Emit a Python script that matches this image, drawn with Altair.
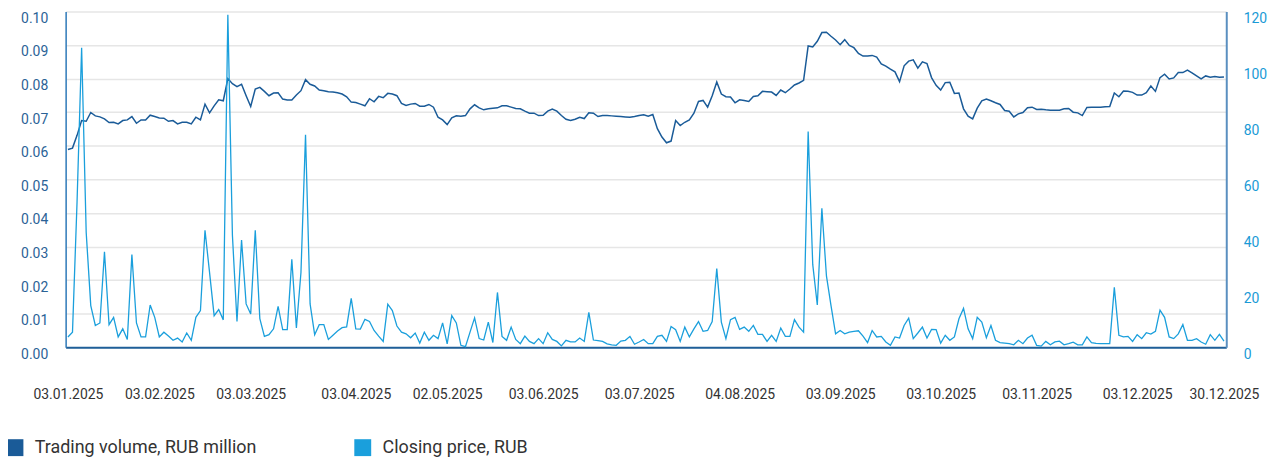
import altair as alt
import pandas as pd

# exchange trading days, 2025 (weekdays without the non-trading holidays)
holidays = ["2025-01-07", "2025-05-01", "2025-05-09", "2025-06-12"]
days = pd.bdate_range("2025-01-03", "2025-12-30")
days = days[~days.isin(pd.to_datetime(holidays))]
day_labels = [d.strftime("%d.%m.%Y") for d in days]

tick_labels = ["03.01.2025", "03.02.2025", "03.03.2025", "03.04.2025", "02.05.2025",
               "03.06.2025", "03.07.2025", "04.08.2025", "03.09.2025", "03.10.2025",
               "03.11.2025", "03.12.2025", "30.12.2025"]
volume_ticks = [0.0, 0.01, 0.02, 0.03, 0.04, 0.05, 0.06, 0.07, 0.08, 0.09, 0.10]
price_ticks = [0, 20, 40, 60, 80, 100, 120]

series_names = ["Trading volume, RUB million", "Closing price, RUB"]

volume = [
    0.0589, 0.0593, 0.0631, 0.0675, 0.0673, 0.0699, 0.0689, 0.0686, 0.0680, 0.0669,
    0.0670, 0.0665, 0.0675, 0.0677, 0.0687, 0.0667, 0.0677, 0.0677, 0.0691, 0.0687,
    0.0683, 0.0682, 0.0673, 0.0675, 0.0665, 0.0670, 0.0670, 0.0665, 0.0685, 0.0677,
    0.0724, 0.0698, 0.0719, 0.0737, 0.0734, 0.0800, 0.0785, 0.0776, 0.0783, 0.0749,
    0.0717, 0.0769, 0.0774, 0.0762, 0.0749, 0.0757, 0.0758, 0.0739, 0.0736, 0.0736,
    0.0751, 0.0764, 0.0797, 0.0783, 0.0778, 0.0766, 0.0764, 0.0761, 0.0760, 0.0758,
    0.0754, 0.0746, 0.0730, 0.0729, 0.0724, 0.0719, 0.0740, 0.0731, 0.0747, 0.0743,
    0.0756, 0.0754, 0.0749, 0.0726, 0.0720, 0.0724, 0.0726, 0.0718, 0.0718, 0.0723,
    0.0715, 0.0685, 0.0677, 0.0663, 0.0683, 0.0689, 0.0688, 0.0690, 0.0710, 0.0722,
    0.0713, 0.0707, 0.0710, 0.0712, 0.0713, 0.0719, 0.0719, 0.0715, 0.0711, 0.0710,
    0.0703, 0.0697, 0.0697, 0.0690, 0.0691, 0.0703, 0.0709, 0.0703, 0.0690, 0.0679,
    0.0675, 0.0679, 0.0685, 0.0681, 0.0698, 0.0697, 0.0687, 0.0690, 0.0690, 0.0689,
    0.0688, 0.0687, 0.0686, 0.0685, 0.0687, 0.0690, 0.0692, 0.0688, 0.0693, 0.0651,
    0.0626, 0.0609, 0.0614, 0.0675, 0.0660, 0.0670, 0.0677, 0.0697, 0.0732, 0.0735,
    0.0715, 0.0749, 0.0790, 0.0754, 0.0746, 0.0745, 0.0728, 0.0737, 0.0735, 0.0732,
    0.0747, 0.0749, 0.0762, 0.0761, 0.0760, 0.0750, 0.0766, 0.0758, 0.0769, 0.0781,
    0.0787, 0.0795, 0.0897, 0.0894, 0.0911, 0.0937, 0.0938, 0.0926, 0.0915, 0.0901,
    0.0916, 0.0899, 0.0892, 0.0875, 0.0867, 0.0867, 0.0869, 0.0864, 0.0844, 0.0837,
    0.0828, 0.0820, 0.0791, 0.0838, 0.0852, 0.0856, 0.0831, 0.0850, 0.0845, 0.0803,
    0.0780, 0.0766, 0.0788, 0.0789, 0.0756, 0.0757, 0.0710, 0.0688, 0.0680, 0.0712,
    0.0734, 0.0739, 0.0734, 0.0728, 0.0723, 0.0705, 0.0703, 0.0686, 0.0695, 0.0699,
    0.0713, 0.0715, 0.0708, 0.0709, 0.0707, 0.0706, 0.0706, 0.0706, 0.0710, 0.0711,
    0.0700, 0.0698, 0.0690, 0.0714, 0.0715, 0.0715, 0.0715, 0.0716, 0.0717, 0.0757,
    0.0746, 0.0763, 0.0762, 0.0759, 0.0751, 0.0751, 0.0758, 0.0778, 0.0762, 0.0803,
    0.0813, 0.0799, 0.0802, 0.0818, 0.0818, 0.0825, 0.0817, 0.0808, 0.0799, 0.0808,
    0.0804, 0.0806, 0.0804, 0.0805,
]

price = [
    3.7, 5.4, 52, 107, 41, 14.9, 7.8, 8.7, 34.1, 8.1,
    10.7, 3.7, 6.6, 2.8, 33.1, 8.7, 3.7, 3.7, 15.1, 10.7,
    3.7, 5.4, 4.0, 2.5, 3.3, 1.9, 5.1, 2.5, 10.7, 13.1,
    41.8, 26.7, 11.3, 13.5, 9.8, 118.8, 40, 9.2, 38.3, 15.5,
    11.9, 41.8, 10.2, 3.9, 4.5, 6.6, 14.6, 6.3, 6.3, 31.4,
    6.9, 26.7, 75.9, 15.5, 4.5, 8.1, 8.1, 2.8, 4.3, 5.8,
    7.0, 7.3, 17.5, 6.6, 6.5, 10.0, 9.2, 6.0, 4.0, 2.1,
    15.4, 13.1, 7.6, 5.4, 4.8, 3.4, 5.1, 1.5, 5.4, 2.5,
    4.3, 3.1, 8.7, 1.2, 11.3, 8.7, 0.7, 0.2, 5.4, 10.5,
    3.1, 2.6, 9.0, 1.7, 19.6, 3.9, 2.5, 7.2, 2.8, 1.3,
    4.0, 2.1, 1.3, 3.1, 1.3, 5.2, 2.8, 2.1, 0.5, 2.5,
    1.9, 1.9, 3.3, 2.1, 12.5, 2.6, 2.4, 2.1, 1.2, 0.9,
    0.7, 2.2, 2.5, 3.9, 1.1, 1.9, 2.8, 1.3, 1.3, 3.9,
    4.3, 2.1, 7.4, 6.3, 2.1, 7.2, 3.7, 6.6, 9.2, 5.7,
    6.0, 9.2, 28.1, 9.0, 3.1, 9.9, 10.7, 6.4, 7.2, 5.7,
    7.8, 4.6, 4.6, 2.1, 4.3, 2.1, 6.9, 3.9, 3.9, 9.9,
    7.2, 5.4, 77.1, 29.6, 15.1, 49.7, 25.5, 14.9, 4.8, 6.0,
    4.8, 5.4, 5.7, 5.9, 4.0, 1.7, 6.0, 3.7, 3.9, 1.9,
    0.7, 3.7, 3.3, 7.8, 10.4, 3.1, 5.1, 7.2, 3.3, 6.4,
    6.3, 1.5, 4.3, 2.5, 3.7, 10.2, 13.9, 6.6, 3.1, 10.7,
    9.0, 3.4, 7.8, 2.5, 1.7, 1.5, 1.3, 0.9, 2.5, 1.3,
    3.3, 4.3, 0.7, 0.4, 2.1, 0.9, 1.9, 2.2, 0.9, 1.3,
    1.8, 0.9, 0.9, 3.7, 1.7, 1.4, 1.3, 1.3, 1.3, 21.4,
    4.3, 3.7, 3.9, 2.1, 4.5, 3.1, 5.2, 4.7, 5.7, 13.3,
    10.7, 3.7, 3.1, 4.8, 8.1, 2.5, 2.5, 3.1, 1.9, 1.1,
    4.5, 2.5, 4.6, 2.2,
]

df = pd.DataFrame({"day": day_labels, "volume": volume, "price": price})

font = "Roboto"
dark_blue = "#1a5b98"
light_blue = "#1a9fdc"

series_scale = alt.Scale(domain=series_names, range=[dark_blue, light_blue])

base = alt.Chart(df).encode(
    x=alt.X("day:O", sort=None, title=None,
            scale=alt.Scale(type="point", padding=0.5),
            axis=alt.Axis(values=tick_labels, labelAngle=0, ticks=False, tickSize=0,
                          grid=False, domainColor="#1f5f99", domainWidth=2,
                          labelColor="#333333", labelFontSize=14, labelPadding=41))
)

volume_line = base.mark_line(strokeWidth=1.5).transform_calculate(
    series="'Trading volume, RUB million'"
).encode(
    y=alt.Y("volume:Q", title=None,
            scale=alt.Scale(domain=[0, 0.10], nice=False),
            axis=alt.Axis(values=volume_ticks, format=".2f", ticks=False, tickSize=0,
                          labelColor="#2a6296", labelFontSize=14, labelPadding=18,
                          labelBaseline="top",
                          domainColor="#2d78b8", domainWidth=1.5,
                          grid=True, gridColor="#e6e6e6", gridWidth=1.5)),
    color=alt.Color("series:N", scale=series_scale,
                    legend=alt.Legend(title=None, orient="none", legendX=-60, legendY=430,
                                      direction="horizontal", symbolType="square",
                                      symbolSize=64, symbolStrokeWidth=9, symbolOpacity=1,
                                      labelFontSize=18, labelColor="#333333", labelLimit=400,
                                      labelOffset=11, columnPadding=84))
)

price_line = base.mark_line(strokeWidth=1.3).transform_calculate(
    series="'Closing price, RUB'"
).encode(
    y=alt.Y("price:Q", title=None,
            scale=alt.Scale(domain=[0, 120], nice=False),
            axis=alt.Axis(orient="right", values=price_ticks, ticks=False, tickSize=0,
                          labelColor="#1a9ad6", labelFontSize=14, labelPadding=17,
                          labelBaseline="top",
                          domainColor="#5a8fc0", domainWidth=2, grid=False)),
    color=alt.Color("series:N", scale=series_scale)
)

chart = alt.layer(volume_line, price_line).resolve_scale(
    y="independent"
).properties(
    width=1168,
    height=338,
    padding={"left": 58, "top": 2, "right": 42, "bottom": 116},
    autosize=alt.AutoSizeParams(type="none"),
).configure_view(
    stroke=None
).configure_axis(
    labelFont=font
).configure_legend(
    labelFont=font
)

chart.save("out.html", embed_options={"renderer": "svg", "actions": False})
